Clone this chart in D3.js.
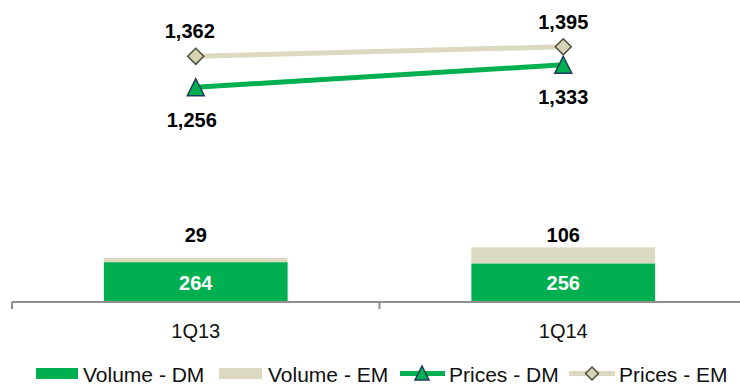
<!DOCTYPE html>
<html>
<head>
<meta charset="utf-8">
<script src="https://cdn.jsdelivr.net/npm/d3@7/dist/d3.min.js"></script>
<style>
  html, body { margin: 0; padding: 0; background: #fff; }
  svg { display: block; font-family: "Liberation Sans", Arial, sans-serif; }
</style>
</head>
<body>
<svg id="chart" width="740" height="385"></svg>
<script>
// Quarters shown on the category axis
const categories = ["1Q13", "1Q14"];
// Stacked volume bars
const volumeDM = [264, 256];
const volumeEM = [29, 106];
// Price lines (secondary scale)
const pricesDM = [1256, 1333];
const pricesEM = [1362, 1395];
// Legend entries
const legendLabels = ["Volume - DM", "Volume - EM", "Prices - DM", "Prices - EM"];

const GREEN = "#00b050";
const BEIGE = "#dbdac0";
const fmt = d3.format(",");

const svg = d3.select("#chart");
const baseY = 302;

const x = d3.scaleBand().domain(categories).range([12, 747]).paddingInner(0).paddingOuter(0);
const yVol = d3.scaleLinear().domain([0, 2000]).range([baseY, 0]);
const yPrice = d3.scaleLinear().domain([520, 1555]).range([baseY, 0]);
const cx = c => x(c) + x.bandwidth() / 2;
const barW = x.bandwidth() * 0.5;

// Bars: DM at the bottom, EM stacked on top
const bars = svg.append("g");
categories.forEach((c, i) => {
  bars.append("rect")
    .attr("x", cx(c) - barW / 2).attr("width", barW)
    .attr("y", yVol(volumeDM[i])).attr("height", yVol(0) - yVol(volumeDM[i]))
    .attr("fill", GREEN);
  bars.append("rect")
    .attr("x", cx(c) - barW / 2).attr("width", barW)
    .attr("y", yVol(volumeDM[i] + volumeEM[i]))
    .attr("height", yVol(volumeDM[i]) - yVol(volumeDM[i] + volumeEM[i]))
    .attr("fill", BEIGE);
});

// Category axis with ticks at band boundaries
const axis = svg.append("g").attr("stroke", "#8f8f8f").attr("stroke-width", 2);
axis.append("line").attr("x1", x.range()[0]).attr("x2", 740).attr("y1", baseY).attr("y2", baseY);
d3.range(categories.length + 1).forEach(i => {
  const tx = x.range()[0] + i * x.step();
  axis.append("line").attr("x1", tx).attr("x2", tx).attr("y1", baseY).attr("y2", baseY + 7);
});
svg.append("g").selectAll("text").data(categories).join("text")
  .attr("x", d => cx(d)).attr("y", 338)
  .attr("text-anchor", "middle").attr("font-size", 20).attr("fill", "#111")
  .text(d => d);

// Bar value labels
svg.append("g").selectAll("text").data(categories).join("text")
  .attr("x", d => cx(d)).attr("y", (d, i) => (yVol(volumeDM[i]) + baseY) / 2 + 7.5)
  .attr("text-anchor", "middle").attr("font-size", 20).attr("font-weight", "bold")
  .attr("fill", "#fff").text((d, i) => volumeDM[i]);
svg.append("g").selectAll("text").data(categories).join("text")
  .attr("x", d => cx(d)).attr("y", 242)
  .attr("text-anchor", "middle").attr("font-size", 20).attr("font-weight", "bold")
  .attr("fill", "#000").text((d, i) => volumeEM[i]);

// Price lines
const line = d3.line().x((d, i) => cx(categories[i])).y(d => yPrice(d));
svg.append("path").datum(pricesEM).attr("d", line)
  .attr("fill", "none").attr("stroke", BEIGE).attr("stroke-width", 5);
svg.append("path").datum(pricesDM).attr("d", line)
  .attr("fill", "none").attr("stroke", GREEN).attr("stroke-width", 5);

const triangle = (px, py, s) => {
  const h = s;
  return `M${px},${py - h / 2}L${px + s / 2},${py + h / 2}L${px - s / 2},${py + h / 2}Z`;
};
const diamond = (px, py, s) =>
  `M${px},${py - s / 2}L${px + s / 2},${py}L${px},${py + s / 2}L${px - s / 2},${py}Z`;

const drawTri = (g, px, py, s) => g.append("path").attr("d", triangle(px, py, s))
  .attr("fill", GREEN).attr("stroke", "#1f3a5c").attr("stroke-width", 1.5);
const drawDia = (g, px, py, s) => g.append("path").attr("d", diamond(px, py, s))
  .attr("fill", "#d6d4b4").attr("stroke", "#4d4d3d").attr("stroke-width", 1.5);

const markers = svg.append("g");
pricesEM.forEach((v, i) => drawDia(markers, cx(categories[i]), yPrice(v), 16));
pricesDM.forEach((v, i) => drawTri(markers, cx(categories[i]), yPrice(v), 17));

// Price labels: EM above, DM below
svg.append("g").selectAll("text").data(pricesEM).join("text")
  .attr("x", (d, i) => cx(categories[i]) - (i === 0 ? 6 : 0)).attr("y", d => yPrice(d) - 18)
  .attr("text-anchor", "middle").attr("font-size", 20).attr("font-weight", "bold")
  .attr("fill", "#000").text(d => fmt(d));
svg.append("g").selectAll("text").data(pricesDM).join("text")
  .attr("x", (d, i) => cx(categories[i]) - (i === 0 ? 4 : 0)).attr("y", d => yPrice(d) + 39.5)
  .attr("text-anchor", "middle").attr("font-size", 20).attr("font-weight", "bold")
  .attr("fill", "#000").text(d => fmt(d));

// Legend
const lg = svg.append("g");
const ly = 373.5;
const legendX = [36, 219, 400, 569];
const textX = [83, 268, 449, 619];
lg.append("rect").attr("x", legendX[0]).attr("y", ly - 5.5).attr("width", 42).attr("height", 11).attr("fill", GREEN);
lg.append("rect").attr("x", legendX[1]).attr("y", ly - 5.5).attr("width", 43).attr("height", 11).attr("fill", BEIGE);
lg.append("line").attr("x1", legendX[2]).attr("x2", legendX[2] + 45).attr("y1", ly).attr("y2", ly)
  .attr("stroke", GREEN).attr("stroke-width", 5);
drawTri(lg, legendX[2] + 22, ly - 0.5, 14);
lg.append("line").attr("x1", legendX[3]).attr("x2", legendX[3] + 46).attr("y1", ly).attr("y2", ly)
  .attr("stroke", BEIGE).attr("stroke-width", 5);
drawDia(lg, legendX[3] + 23, ly, 13);
lg.selectAll("text").data(legendLabels).join("text")
  .attr("x", (d, i) => textX[i]).attr("y", 381.5)
  .attr("font-size", 21).attr("fill", "#111")
  .text(d => d);
</script>
</body>
</html>
